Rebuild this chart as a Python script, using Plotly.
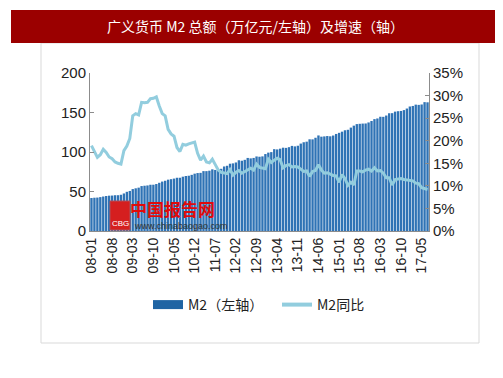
import plotly.graph_objects as go
import pandas as pd

months = pd.date_range("2008-01-01", "2017-07-01", freq="MS").strftime("%y-%m").tolist()

m2_total = [
    41.78, 42.13, 42.31, 42.91, 43.64, 44.31, 44.73, 44.87, 45.29, 45.30, 45.87, 47.52,
    49.61, 50.69, 53.06, 54.05, 54.89, 56.89, 57.31, 57.67, 58.54, 58.60, 59.46, 61.02,
    62.56, 63.60, 64.99, 65.61, 66.35, 67.39, 67.40, 68.75, 69.65, 69.98, 71.08, 72.58,
    73.36, 73.61, 75.81, 75.78, 76.34, 78.08, 77.29, 78.07, 78.74, 81.68, 82.57, 85.16,
    85.59, 86.75, 89.56, 88.96, 90.09, 92.50, 91.92, 92.49, 94.37, 94.00, 94.46, 97.42,
    99.21, 99.86, 103.61, 103.26, 104.21, 105.45, 105.22, 106.12, 107.74, 107.10, 107.93, 110.65,
    112.35, 113.08, 116.07, 116.00, 118.02, 120.96, 119.41, 119.76, 120.21, 119.87, 120.86, 122.84,
    124.27, 125.74, 127.53, 128.13, 130.88, 133.34, 135.32, 135.70, 135.98, 136.10, 137.40, 139.23,
    141.63, 142.46, 144.62, 144.52, 146.17, 149.05, 149.16, 151.10, 151.64, 151.95, 153.04, 155.01,
    157.59, 158.29, 159.96, 159.63, 160.14, 163.13, 162.90,
]

m2_yoy = [
    18.9, 17.5, 16.3, 16.9, 18.1, 17.4, 16.4, 16.0, 15.3, 15.0, 14.8, 17.8,
    18.8, 20.5, 25.5, 26.0, 25.7, 28.5, 28.4, 28.5, 29.3, 29.4, 29.7, 27.7,
    26.0, 25.5, 22.5, 21.5, 21.0, 18.5, 17.6, 19.2, 19.0, 19.3, 19.5, 19.7,
    17.2, 15.7, 16.6, 15.3, 15.1, 15.9, 14.7, 13.5, 13.0, 12.9, 12.7, 13.6,
    12.4, 13.0, 13.4, 12.8, 13.2, 13.6, 13.9, 13.5, 14.8, 14.1, 13.9, 13.8,
    15.9, 15.2, 15.7, 16.1, 15.8, 14.0, 14.5, 14.7, 14.2, 14.3, 14.2, 13.6,
    13.2, 13.3, 12.1, 13.2, 13.4, 14.7, 13.5, 12.8, 12.9, 12.6, 12.3, 12.2,
    10.8, 12.5, 11.6, 10.1, 10.8, 10.2, 13.3, 13.3, 13.1, 13.5, 13.7, 13.3,
    14.0, 13.3, 13.4, 12.8, 11.8, 11.8, 10.2, 11.4, 11.5, 11.6, 11.4, 11.3,
    11.3, 11.1, 10.6, 10.5, 9.6, 9.4, 9.2,
]

tick_labels = months[::7]

title_text = "广义货币 M2 总额（万亿元/左轴）及增速（轴）"
bar_name = "M2（左轴）"
line_name = "M2同比"

FONT = "Liberation Sans, Arial, Noto Sans CJK SC, sans-serif"
CJK = "Noto Sans CJK SC, Liberation Sans, sans-serif"

BAR_COLOR = "#2F73B5"
LINE_COLOR = "#92CDDE"

fig = go.Figure()
fig.add_trace(go.Bar(
    x=months, y=m2_total, name=bar_name, showlegend=False,
    marker=dict(color=BAR_COLOR, line=dict(width=0)),
))
fig.add_trace(go.Scatter(
    x=months, y=m2_yoy, name=line_name, yaxis="y2", mode="lines", showlegend=False,
    line=dict(color=LINE_COLOR, width=3),
))
# legend-only entries (wide swatches like the reference)
fig.add_trace(go.Scatter(
    x=[None], y=[None], name=bar_name, mode="lines",
    line=dict(color="#1F64A3", width=9),
))
fig.add_trace(go.Scatter(
    x=[None], y=[None], name=line_name, mode="lines", yaxis="y2",
    line=dict(color=LINE_COLOR, width=4),
))

L, R, T, B = 82, 82, 65, 155
W, H = 503, 378
pw, ph = W - L - R, H - T - B

def px(x):
    return (x - L) / pw

def py(y):
    return (H - B - y) / ph

shapes = [
    dict(type="rect", xref="paper", yref="paper",
         x0=px(33), x1=px(471), y0=py(335), y1=py(35),
         line=dict(color="#D9D9D9", width=1), fillcolor="rgba(0,0,0,0)", layer="below"),
    dict(type="rect", xref="paper", yref="paper",
         x0=px(3), x1=px(500), y0=py(35), y1=py(2),
         line=dict(width=0), fillcolor="#9B0000"),
    dict(type="rect", xref="paper", yref="paper",
         x0=px(102), x1=px(122), y0=py(222), y1=py(193),
         line=dict(color="#B0505A", width=1), fillcolor="#D51F1F"),
]

annotations = [
    dict(text=title_text, xref="paper", yref="paper", x=px(247), y=py(18),
         showarrow=False, font=dict(family=CJK, size=14, color="white"),
         xanchor="center", yanchor="middle"),
    dict(text="中国报告网", xref="paper", yref="paper", x=px(120), y=py(200),
         showarrow=False, font=dict(family=CJK, size=17, color="#E00A0A", weight="bold"),
         xanchor="left", yanchor="middle"),
    dict(text="www.chinabaogao.com", xref="paper", yref="paper", x=px(124), y=py(218),
         showarrow=False, font=dict(family=FONT, size=9, color="#333333"),
         xanchor="left", yanchor="middle"),
    dict(text="CBG", xref="paper", yref="paper", x=px(112), y=py(215),
         showarrow=False, font=dict(family=FONT, size=8, color="white"),
         xanchor="center", yanchor="middle"),
]

fig.update_layout(
    width=W, height=H,
    margin=dict(l=L, r=R, t=T, b=B),
    paper_bgcolor="white", plot_bgcolor="white",
    font=dict(family=FONT, size=14, color="#222222"),
    bargap=0.2,
    showlegend=True,
    legend=dict(orientation="h", x=px(140), xanchor="left", y=py(297), yanchor="middle",
                font=dict(family=CJK, size=14, color="#222222"), itemwidth=30,
                entrywidth=84, entrywidthmode="pixels",
                bgcolor="rgba(0,0,0,0)"),
    xaxis=dict(type="category", tickmode="array", tickvals=tick_labels, ticktext=tick_labels,
               tickangle=-90, tickfont=dict(size=14), showgrid=False,
               showline=True, linecolor="#8C8C8C", linewidth=1, ticks=""),
    yaxis=dict(range=[0, 200], dtick=50, showgrid=False, zeroline=False,
               showline=True, linecolor="#8C8C8C", linewidth=1,
               ticks="inside", ticklen=4, tickcolor="#8C8C8C", tickfont=dict(size=15)),
    yaxis2=dict(range=[0, 35], dtick=5, ticksuffix="%", overlaying="y", side="right",
                showgrid=False, zeroline=False, showline=True, linecolor="#8C8C8C",
                linewidth=1, ticks="inside", ticklen=4, tickcolor="#8C8C8C",
                tickfont=dict(size=15)),
    shapes=shapes,
    annotations=annotations,
)

fig.write_html("out.html")
